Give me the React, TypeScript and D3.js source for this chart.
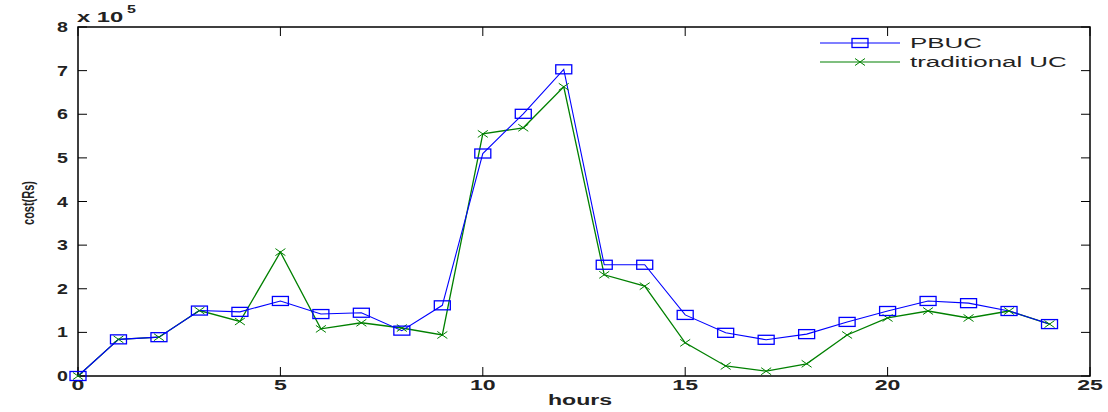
import React from "react";
import * as d3 from "d3";

const hours = [0,1,2,3,4,5,6,7,8,9,10,11,12,13,14,15,16,17,18,19,20,21,22,23,24];
const pbuc = [0,0.84,0.89,1.50,1.47,1.72,1.42,1.45,1.04,1.62,5.10,6.01,7.03,2.55,2.55,1.40,0.99,0.83,0.96,1.24,1.49,1.72,1.67,1.49,1.19];
const traditional = [0,0.84,0.89,1.50,1.25,2.84,1.08,1.22,1.10,0.94,5.55,5.69,6.63,2.32,2.06,0.76,0.23,0.11,0.28,0.94,1.33,1.49,1.33,1.49,1.19];
const xTicks = [0,5,10,15,20,25];
const yTicks = [0,1,2,3,4,5,6,7,8];
const seriesNames = ["PBUC", "traditional UC"];

const W = 1108, H = 412;
const L = 78, R = 1090, T = 27, B = 376;
const font = "'Liberation Sans', Arial, sans-serif";

function SText(props: { x: number; y: number; sx: number; size: number; bold?: boolean; anchor?: string; children: React.ReactNode }) {
  const { x, y, sx, size, bold, anchor, children } = props;
  return (
    <text transform={`translate(${x},${y}) scale(${sx},1)`} textAnchor={anchor || "start"} fontFamily={font}
      fontWeight={bold ? "bold" : "normal"} fontSize={size} fill="#222">{children}</text>
  );
}

export default function App() {
  const x = d3.scaleLinear().domain([0, 25]).range([L, R]);
  const y = d3.scaleLinear().domain([0, 8]).range([B, T]);
  const line = d3.line<number>().x((_, i) => x(hours[i])).y(d => y(d));
  const tickLen = 9;
  const xMark = (cx: number, cy: number, k: string) => (
    <g key={k} stroke="#008000" strokeWidth={1}>
      <line x1={cx - 5} y1={cy - 3.5} x2={cx + 5} y2={cy + 3.5} />
      <line x1={cx - 5} y1={cy + 3.5} x2={cx + 5} y2={cy - 3.5} />
    </g>
  );
  return (
    <svg width={W} height={H} style={{ position: "absolute", left: 0, top: 0, background: "#fff" }}>
      <rect x={0} y={0} width={W} height={H} fill="#fff" />
      <rect x={L} y={T} width={R - L} height={B - T} fill="none" stroke="#000" strokeWidth={1.5} />
      {xTicks.map(t => (
        <g key={"x" + t}>
          <line x1={x(t)} x2={x(t)} y1={B} y2={B - tickLen} stroke="#000" />
          <line x1={x(t)} x2={x(t)} y1={T} y2={T + tickLen} stroke="#000" />
          <SText x={x(t)} y={B + 14} sx={1.65} size={14} bold anchor="middle">{t}</SText>
        </g>
      ))}
      {yTicks.map(t => (
        <g key={"y" + t}>
          <line x1={L} x2={L + tickLen} y1={y(t)} y2={y(t)} stroke="#000" />
          <line x1={R} x2={R - tickLen} y1={y(t)} y2={y(t)} stroke="#000" />
          <SText x={L - 10} y={y(t) + 5} sx={1.4} size={14} bold anchor="end">{t}</SText>
        </g>
      ))}
      <SText x={77} y={22} sx={1.7} size={14} bold>x 10</SText>
      <SText x={127} y={13} sx={1.6} size={10} bold>5</SText>
      <SText x={580} y={405} sx={1.65} size={14} bold anchor="middle">hours</SText>
      <text transform={`translate(34,203) rotate(-90) scale(1,1.5)`} textAnchor="middle" fontFamily={font}
        fontWeight="bold" fontSize={11} fill="#222">cost(Rs)</text>
      <path d={line(traditional) || ""} fill="none" stroke="#008000" strokeWidth={1.3} />
      <path d={line(pbuc) || ""} fill="none" stroke="#0000ff" strokeWidth={1.1} />
      {traditional.map((v, i) => xMark(x(hours[i]), y(v), "t" + i))}
      {pbuc.map((v, i) => (
        <rect key={"p" + i} x={x(hours[i]) - 8} y={y(v) - 4.5} width={16} height={9} fill="none" stroke="#0000ff" strokeWidth={1.3} />
      ))}
      <line x1={820} x2={900} y1={43} y2={43} stroke="#0000ff" strokeWidth={1.1} />
      <rect x={852} y={38.5} width={16} height={9} fill="none" stroke="#0000ff" strokeWidth={1.3} />
      <SText x={910} y={48} sx={1.85} size={14}>{seriesNames[0]}</SText>
      <line x1={820} x2={900} y1={62} y2={62} stroke="#008000" strokeWidth={1.1} />
      {xMark(860, 62, "lg")}
      <SText x={910} y={67} sx={1.85} size={14}>{seriesNames[1]}</SText>
    </svg>
  );
}
